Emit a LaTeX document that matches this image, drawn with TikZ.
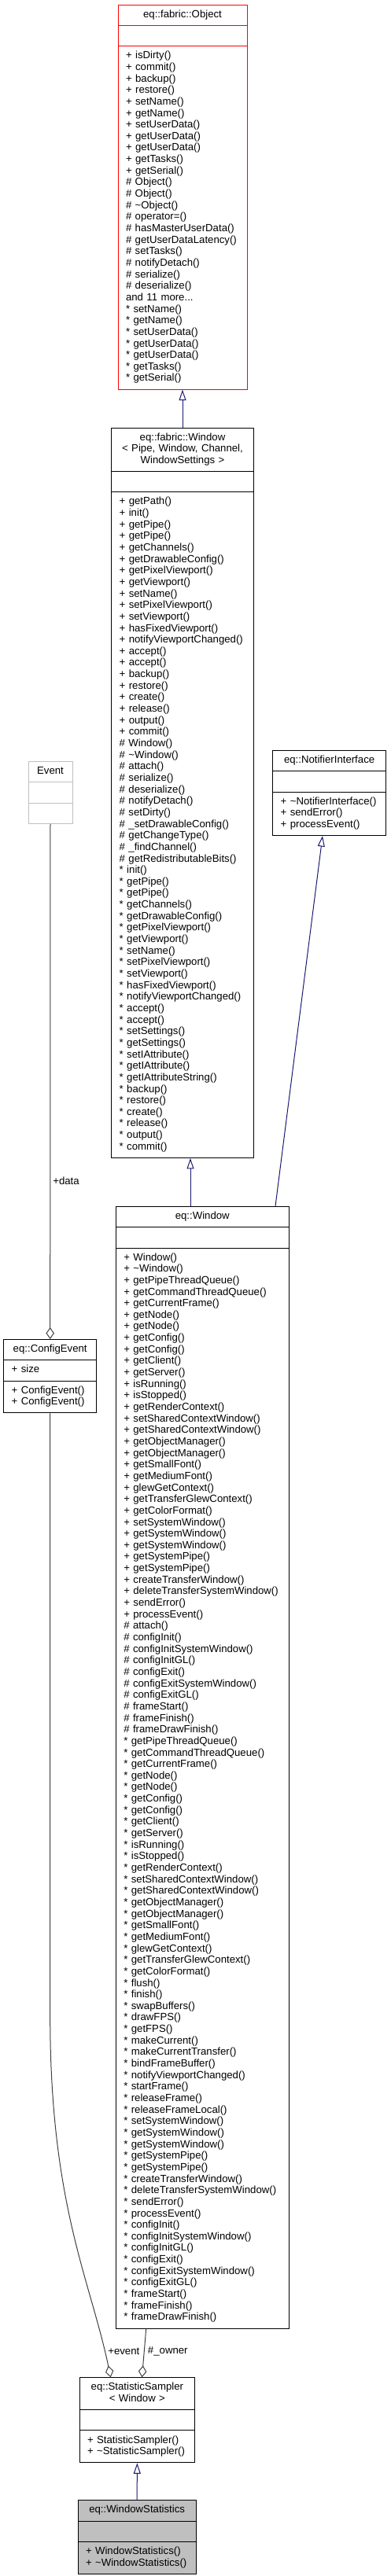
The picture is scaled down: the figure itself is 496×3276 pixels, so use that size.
\documentclass[tikz,border=0pt]{standalone}
\usepackage{fontspec}
\setmainfont{Liberation Sans}
\usetikzlibrary{shapes.multipart,arrows.meta}

\definecolor{grey25}{RGB}{64,64,64}
\definecolor{grey75}{RGB}{191,191,191}
\definecolor{midnightblue}{RGB}{25,25,112}
\newcommand{\tl}{\textasciitilde}
\newcommand{\ctitle}[1]{\parbox[t]{\linewidth}{\centering\strut #1\strut}}

\tikzset{
    umlclass/.style = {draw = black, line width = 1pt, rectangle split, rectangle split parts = 3,
        text width = #1, align = left, inner xsep = 10pt, inner ysep = 5.3pt, anchor = north,
        font = \fontsize{13.2}{14.65}\selectfont},
    inherit/.style = {draw = midnightblue, line width = 1pt, -{Triangle[open, length = 13.5pt, width = 9pt]}},
    member/.style = {draw = grey25, line width = 1pt, -{Diamond[open, length = 15pt, width = 10.5pt]}},
    rolelabel/.style = {inner sep = 0pt, font = \fontsize{13.2}{14.65}\selectfont}
}

\begin{document}
\begin{tikzpicture}[x = 1pt, y = -1pt]
    \useasboundingbox (0,0) rectangle (496,3276);

    \node[umlclass = 144pt, draw = red] (obj) at (232,5.7)
        {\ctitle{eq::fabric::Object}
        \nodepart{second}\strut
        \nodepart{third}\strut + isDirty()\\+ commit()\\+ backup()\\+ restore()\\+ setName()\\+ getName()\\+ setUserData()\\+ getUserData()\\+ getUserData()\\+ getTasks()\\+ getSerial()\\\# Object()\\\# Object()\\\# \tl Object()\\\# operator=()\\\# hasMasterUserData()\\\# getUserDataLatency()\\\# setTasks()\\\# notifyDetach()\\\# serialize()\\\# deserialize()\\and 11 more...\\{}* setName()\\{}* getName()\\{}* setUserData()\\{}* getUserData()\\{}* getUserData()\\{}* getTasks()\\{}* getSerial()\strut};

    \node[umlclass = 160.6pt] (fwin) at (232,543.5)
        {\ctitle{eq::fabric::Window\\< Pipe, Window, Channel,\\WindowSettings >}
        \nodepart{second}\strut
        \nodepart{third}\strut + getPath()\\+ init()\\+ getPipe()\\+ getPipe()\\+ getChannels()\\+ getDrawableConfig()\\+ getPixelViewport()\\+ getViewport()\\+ setName()\\+ setPixelViewport()\\+ setViewport()\\+ hasFixedViewport()\\+ notifyViewportChanged()\\+ accept()\\+ accept()\\+ backup()\\+ restore()\\+ create()\\+ release()\\+ output()\\+ commit()\\\# Window()\\\# \tl Window()\\\# attach()\\\# serialize()\\\# deserialize()\\\# notifyDetach()\\\# setDirty()\\\# \_setDrawableConfig()\\\# getChangeType()\\\# \_findChannel()\\\# getRedistributableBits()\\{}* init()\\{}* getPipe()\\{}* getPipe()\\{}* getChannels()\\{}* getDrawableConfig()\\{}* getPixelViewport()\\{}* getViewport()\\{}* setName()\\{}* setPixelViewport()\\{}* setViewport()\\{}* hasFixedViewport()\\{}* notifyViewportChanged()\\{}* accept()\\{}* accept()\\{}* setSettings()\\{}* getSettings()\\{}* setIAttribute()\\{}* getIAttribute()\\{}* getIAttributeString()\\{}* backup()\\{}* restore()\\{}* create()\\{}* release()\\{}* output()\\{}* commit()\strut};

    \node[umlclass = 123.8pt] (notif) at (418.6,954)
        {\ctitle{eq::NotifierInterface}
        \nodepart{second}\strut
        \nodepart{third}\strut + \tl NotifierInterface()\\+ sendError()\\+ processEvent()\strut};

    \node[umlclass = 36pt, draw = grey75] (event) at (64,968)
        {\ctitle{Event}
        \nodepart{second}\strut
        \nodepart{third}\strut};

    \node[umlclass = 200pt] (win) at (257.3,1534)
        {\ctitle{eq::Window}
        \nodepart{second}\strut
        \nodepart{third}\strut + Window()\\+ \tl Window()\\+ getPipeThreadQueue()\\+ getCommandThreadQueue()\\+ getCurrentFrame()\\+ getNode()\\+ getNode()\\+ getConfig()\\+ getConfig()\\+ getClient()\\+ getServer()\\+ isRunning()\\+ isStopped()\\+ getRenderContext()\\+ setSharedContextWindow()\\+ getSharedContextWindow()\\+ getObjectManager()\\+ getObjectManager()\\+ getSmallFont()\\+ getMediumFont()\\+ glewGetContext()\\+ getTransferGlewContext()\\+ getColorFormat()\\+ setSystemWindow()\\+ getSystemWindow()\\+ getSystemWindow()\\+ getSystemPipe()\\+ getSystemPipe()\\+ createTransferWindow()\\+ deleteTransferSystemWindow()\\+ sendError()\\+ processEvent()\\\# attach()\\\# configInit()\\\# configInitSystemWindow()\\\# configInitGL()\\\# configExit()\\\# configExitSystemWindow()\\\# configExitGL()\\\# frameStart()\\\# frameFinish()\\\# frameDrawFinish()\\{}* getPipeThreadQueue()\\{}* getCommandThreadQueue()\\{}* getCurrentFrame()\\{}* getNode()\\{}* getNode()\\{}* getConfig()\\{}* getConfig()\\{}* getClient()\\{}* getServer()\\{}* isRunning()\\{}* isStopped()\\{}* getRenderContext()\\{}* setSharedContextWindow()\\{}* getSharedContextWindow()\\{}* getObjectManager()\\{}* getObjectManager()\\{}* getSmallFont()\\{}* getMediumFont()\\{}* glewGetContext()\\{}* getTransferGlewContext()\\{}* getColorFormat()\\{}* flush()\\{}* finish()\\{}* swapBuffers()\\{}* drawFPS()\\{}* getFPS()\\{}* makeCurrent()\\{}* makeCurrentTransfer()\\{}* bindFrameBuffer()\\{}* notifyViewportChanged()\\{}* startFrame()\\{}* releaseFrame()\\{}* releaseFrameLocal()\\{}* setSystemWindow()\\{}* getSystemWindow()\\{}* getSystemWindow()\\{}* getSystemPipe()\\{}* getSystemPipe()\\{}* createTransferWindow()\\{}* deleteTransferSystemWindow()\\{}* sendError()\\{}* processEvent()\\{}* configInit()\\{}* configInitSystemWindow()\\{}* configInitGL()\\{}* configExit()\\{}* configExitSystemWindow()\\{}* configExitGL()\\{}* frameStart()\\{}* frameFinish()\\{}* frameDrawFinish()\strut};

    \node[umlclass = 98pt] (cevent) at (63.7,1703)
        {\ctitle{eq::ConfigEvent}
        \nodepart{second}\strut + size\strut
        \nodepart{third}\strut + ConfigEvent()\\+ ConfigEvent()\strut};

    \node[umlclass = 126.7pt] (sampler) at (174.35,3023.3)
        {\ctitle{eq::StatisticSampler\\< Window >}
        \nodepart{second}\strut
        \nodepart{third}\strut + StatisticSampler()\\+ \tl StatisticSampler()\strut};

    \node[umlclass = 130.3pt, fill = grey75] (wstats) at (174.15,3179.3)
        {\ctitle{eq::WindowStatistics}
        \nodepart{second}\strut
        \nodepart{third}\strut + WindowStatistics()\\+ \tl WindowStatistics()\strut};

    % inheritance
    \draw[inherit] (fwin.north) -- (obj.south);
    \draw[inherit] ([xshift = -15.3pt]win.north) -- ([xshift = 10pt]fwin.south);
    \draw[inherit] ([xshift = 92.7pt]win.north) -- ([xshift = -8.6pt]notif.south);
    \draw[inherit] (wstats.north) -- (sampler.south);

    % members
    \draw[member] (event.south) -- (cevent.north);
    \draw[member] (cevent.south) -- ++(0,767) .. controls +(0,240) and +(-25.7,-123.3) .. ([xshift = -33.65pt]sampler.north);
    \draw[member] ([xshift = -71.6pt]win.south) -- ([xshift = 6.15pt]sampler.north);

    \node[rolelabel] (data) at (84,1502) {+data};
    \node[rolelabel] (evlabel) at (157.3,2990.7) {+event};
    \node[rolelabel] (owner) at (213.3,2990.7) {\#\_owner};
\end{tikzpicture}
\end{document}
